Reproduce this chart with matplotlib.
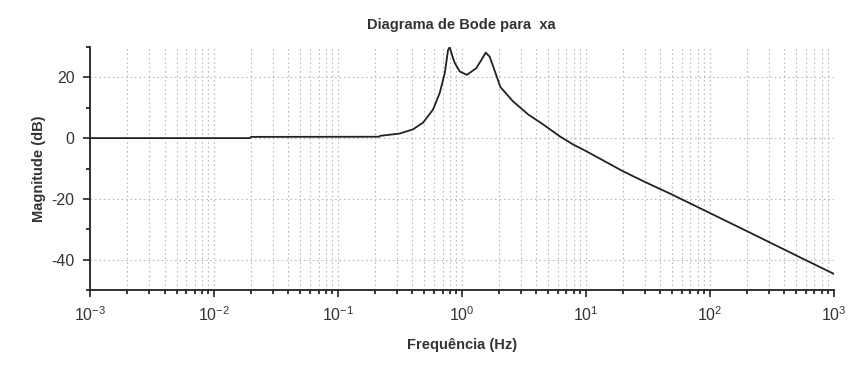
import matplotlib
matplotlib.use("Agg")
import matplotlib.pyplot as plt
from matplotlib.ticker import LogLocator, MultipleLocator, FixedLocator

freq_hz = [0.001, 0.0195, 0.020, 0.215, 0.22, 0.316, 0.405, 0.488, 0.587, 0.665,
           0.73, 0.776, 0.80, 0.84, 0.879, 0.964, 1.10, 1.31, 1.44, 1.56,
           1.68, 1.85, 2.05, 2.59, 3.43, 4.5, 6.17, 8.0, 10.1, 20.0,
           30.0, 50.0, 100.0, 200.0, 500.0, 1000.0]
mag_db = [0.0, 0.0, 0.4, 0.45, 0.75, 1.5, 2.9, 5.1, 9.4, 14.9,
          21.4, 29.0, 29.9, 27.0, 24.7, 21.9, 20.8, 23.0, 25.7, 28.1,
          26.8, 22.0, 16.8, 12.1, 7.8, 4.6, 0.6, -2.2, -4.3, -10.9,
          -14.4, -18.6, -24.6, -30.6, -38.6, -44.6]

x_decades = [1e-3, 1e-2, 1e-1, 1e0, 1e1, 1e2, 1e3]
y_ticks = [20, 0, -20, -40]

plt.rcParams["font.family"] = ["Liberation Sans", "DejaVu Sans"]
plt.rcParams["axes.unicode_minus"] = False

fig = plt.figure(figsize=(8.48, 3.72), dpi=100)
ax = fig.add_axes([0.106, 0.22, 0.877, 0.654])

ax.semilogx(freq_hz, mag_db, color="#222222", lw=1.3)

ax.set_xlim(1e-3, 1e3)
ax.set_ylim(-50, 30)

ax.xaxis.set_major_locator(FixedLocator(x_decades))
ax.xaxis.set_minor_locator(LogLocator(base=10, subs=range(2, 10), numticks=20))
ax.yaxis.set_major_locator(FixedLocator(y_ticks))
ax.yaxis.set_minor_locator(MultipleLocator(10))

ax.grid(which="major", axis="both", color="#bbbbbb", ls=(0, (1.5, 2.5)), lw=0.8)
ax.grid(which="minor", axis="x", color="#bbbbbb", ls=(0, (1.5, 2.5)), lw=0.8)

for s in ["top", "right"]:
    ax.spines[s].set_visible(False)
for s in ["left", "bottom"]:
    ax.spines[s].set_linewidth(1.3)
    ax.spines[s].set_color("#222222")

ax.tick_params(which="major", direction="out", length=5, width=1.2, pad=6,
               labelsize=11.5, colors="#222222", labelcolor="#333333")
ax.tick_params(which="minor", direction="out", length=3, width=1.1)

ax.set_title("Diagrama de Bode para  xa", fontsize=10.5, fontweight="bold",
             pad=13, color="#333333")
ax.set_xlabel("Frequência (Hz)", fontsize=10.5, fontweight="bold",
              labelpad=10, color="#333333")
ax.set_ylabel("Magnitude (dB)", fontsize=10.5, fontweight="bold",
              labelpad=4, color="#333333")

fig.savefig("out.png", dpi=100)
